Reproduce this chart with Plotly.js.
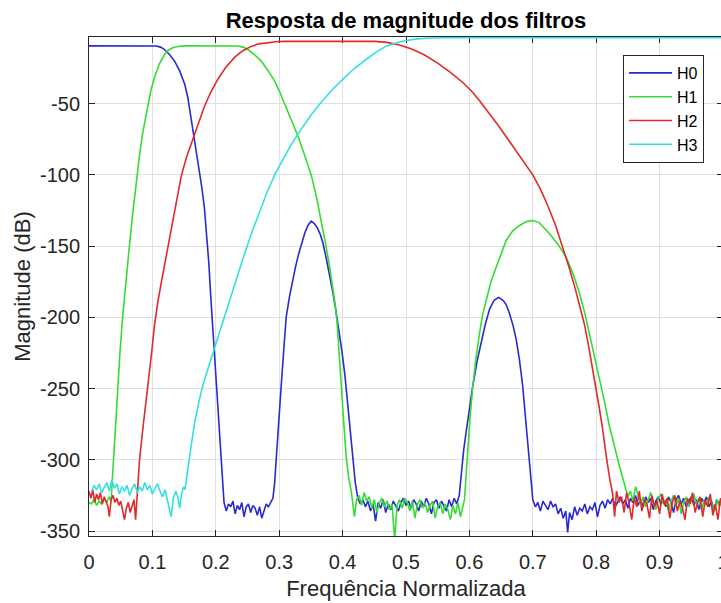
<!DOCTYPE html>
<html>
<head>
<meta charset="utf-8">
<script src="https://cdn.plot.ly/plotly-3.0.1.min.js"></script>
<style>
html,body{margin:0;padding:0;overflow:hidden;background:#fff;}
#chart{width:724px;height:603px;}
</style>
</head>
<body>
<div id="chart"></div>
<script>
// ---------- Data ----------
const seriesNames = ['H0', 'H1', 'H2', 'H3'];
const seriesColors = ['#2a2ad0', '#33dd33', '#e02a2a', '#33e0e0'];

const freqH0 = [0,0.05,0.10,0.106,0.113,0.119,0.127,0.135,0.143,0.151,0.156,0.161,0.166,0.170,0.174,0.178,0.182,0.186,0.189,0.192,0.195,0.198,0.201,0.204,0.207,0.2095,0.2115,0.213,
 0.2165,0.220,0.2235,0.227,0.2305,0.234,0.2375,0.241,0.2445,0.248,0.2515,0.255,0.2585,0.262,0.2655,0.269,0.2725,0.276,0.2795,0.283,0.2865,0.290,
 0.2925,0.295,0.299,0.303,0.307,0.311,0.316,0.321,0.326,0.331,0.336,0.341,0.346,0.3505,0.355,0.360,0.365,0.369,0.374,0.379,0.384,0.389,0.394,0.399,0.4035,0.408,0.412,0.416,0.420,0.424,
 0.428,0.432,0.436,0.440,0.444,0.448,0.452,0.456,0.460,0.464,0.468,0.472,0.476,0.480,0.484,0.488,0.492,0.496,0.500,0.504,0.508,0.512,0.516,0.520,0.524,0.528,0.532,0.536,0.540,0.544,0.548,0.552,0.556,0.560,0.564,0.568,0.572,0.576,0.580,0.584,
 0.587,0.591,0.595,0.600,0.605,0.612,0.619,0.625,0.632,0.639,0.646,0.653,0.658,0.663,0.669,0.674,0.679,0.684,0.688,0.692,0.696,0.700,
 0.704,0.708,0.712,0.716,0.720,0.724,0.728,0.732,0.736,0.740,0.744,0.748,0.752,0.755,0.758,0.762,0.766,0.770,0.774,0.778,0.782,0.786,0.790,0.794,0.798,0.802,0.806,0.810,0.814,0.818,0.822,0.826,0.830,0.834,0.838,0.842,0.846,0.850,0.854,0.858,0.862,0.866,0.870,0.874,0.878,0.882,0.886,0.890,0.894,0.898,0.902,0.906,0.910,0.914,0.918,0.922,0.926,0.930,0.934,0.938,0.942,0.946,0.950,0.954,0.958,0.962,0.966,0.970,0.974,0.978,0.982,0.986,0.990,0.994,0.998];
const dbH0 = [-9.4,-9.4,-9.4,-9.5,-10.3,-12,-15.5,-20.1,-27,-36.4,-46,-59.8,-74.9,-86,-97,-109,-123,-143,-162,-185,-205,-225,-247,-268,-290,-308,-322,-330,
 -336,-331,-333,-329,-338,-332,-335,-330,-340,-333,-331,-337,-332,-334,-339,-333,-341,-336,-331,-333,-330,-327,
 -318,-300,-275,-249,-224,-200,-186,-174,-164,-155,-148,-140,-135,-132.5,-134,-137,-142,-148,-158,-169,-181,-194,-208,-224,-240,-260,-280,-300,-316,-327,
 -331,-328,-333,-329,-336,-331,-343,-330,-334,-328,-337,-331,-335,-329,-333,-336,-330,-327,-332,-329,-334,-328,-331,-336,-329,-333,-327,-331,-338,-330,-328,-334,-329,-332,-336,-328,-333,-327,-331,-325,
 -310,-293,-280,-264,-249,-231,-216,-205,-194,-188,-186,-188,-191,-197,-206,-216,-230,-248,-268,-290,-312,-328,
 -333,-330,-336,-329,-332,-335,-329,-333,-331,-338,-334,-341,-336,-351,-337,-342,-333,-339,-334,-336,-331,-338,-333,-335,-330,-340,-332,-329,-334,-328,-331,-327,-333,-329,-326,-331,-328,-334,-327,-330,-325,-332,-328,-333,-326,-330,-327,-335,-329,-326,-331,-328,-333,-326,-330,-337,-328,-325,-331,-327,-333,-329,-326,-332,-328,-335,-327,-330,-326,-333,-329,-336,-328,-331,-327];

const freqH1 = [0,0.004,0.008,0.012,0.016,0.020,0.024,0.028,0.032,0.035,
 0.036,0.0385,0.0415,0.045,0.0488,0.053,0.058,0.0635,0.069,0.0744,0.080,0.0849,0.0927,0.098,0.1044,0.111,0.119,0.125,0.132,0.140,0.151,0.200,0.235,0.243,0.2505,0.261,0.2716,0.282,0.2926,0.3005,0.308,0.318,0.3294,0.340,0.3505,0.359,0.3665,0.373,0.379,0.384,0.388,0.391,0.394,0.3975,0.4015,0.4057,0.410,0.4136,0.4188,0.422,
 0.426,0.430,0.434,0.438,0.442,0.446,0.450,0.454,0.458,0.462,0.466,0.470,0.474,0.478,0.482,0.486,0.490,0.494,0.498,0.502,0.506,0.510,0.514,0.518,0.522,0.526,0.530,0.534,0.538,0.542,0.546,0.550,0.554,0.558,0.562,0.566,0.570,0.574,0.578,0.582,0.586,0.590,
 0.5923,0.595,0.5975,0.601,0.6054,0.610,0.616,0.621,0.6265,0.634,0.6423,0.650,0.658,0.668,0.679,0.690,0.700,0.710,0.7263,0.740,0.7527,0.764,0.7737,0.782,0.7894,0.797,0.805,0.813,0.821,0.829,0.8367,0.842,0.847,0.850,
 0.854,0.858,0.862,0.866,0.870,0.874,0.878,0.882,0.886,0.890,0.894,0.898,0.902,0.906,0.910,0.914,0.918,0.922,0.926,0.930,0.934,0.938,0.942,0.946,0.950,0.954,0.958,0.962,0.966,0.970,0.974,0.978,0.982,0.986,0.990,0.994,0.998];
const dbH1 = [-330,-331,-328,-332,-329,-331,-327,-330,-326,-329,
 -320,-300,-276,-250,-225,-200,-175,-151,-127,-104,-85,-70,-51,-40,-30,-22,-15.5,-12.5,-10.8,-9.9,-9.4,-9.4,-9.5,-10.3,-12,-15.5,-20.1,-26.5,-34,-41.5,-49.5,-60.5,-72.5,-86,-100,-116,-132,-148,-163,-177,-190,-202,-220,-245,-272,-298,-314,-322,-340,-328,
 -325,-332,-323,-329,-326,-334,-328,-337,-330,-327,-333,-329,-335,-331,-356,-332,-328,-334,-327,-330,-336,-329,-341,-331,-328,-334,-330,-337,-332,-329,-341,-333,-330,-338,-331,-335,-342,-332,-338,-330,-340,-333,
 -327.8,-310,-293,-270,-248.6,-230,-211,-198,-188,-175,-164.7,-155,-146,-139.5,-135.5,-132.8,-132,-133.5,-141.3,-149,-157.7,-170,-183.3,-197,-211.3,-226,-241.6,-259,-276.6,-292,-304.5,-313,-320.8,-326,
 -322,-329,-319,-324,-331,-326,-333,-328,-323,-330,-335,-327,-324,-331,-328,-336,-329,-325,-332,-327,-338,-330,-326,-333,-329,-324,-331,-327,-335,-329,-332,-326,-330,-336,-328,-333,-329];

const freqH2 = [0,0.003,0.006,0.009,0.012,0.015,0.018,0.021,0.024,0.027,0.030,0.032,0.035,0.038,0.041,0.044,0.047,0.050,0.053,0.056,0.059,0.062,0.065,0.068,0.071,0.0735,0.0755,
 0.077,0.0797,0.086,0.0928,0.098,0.1035,0.109,0.1155,0.1235,0.1315,0.1385,0.1454,0.1535,0.163,0.172,0.182,0.192,0.203,0.215,0.2295,0.242,0.2558,0.268,0.282,0.295,0.308,0.350,0.400,0.450,0.470,0.490,0.510,0.530,0.550,0.570,0.590,0.605,0.616,0.630,0.645,0.660,0.675,0.690,0.700,0.712,0.724,0.736,0.747,0.758,0.767,0.775,0.7815,0.788,0.794,0.800,0.805,0.810,0.8135,0.8167,0.822,0.826,
 0.829,0.832,0.836,0.840,0.844,0.848,0.852,0.856,0.860,0.864,0.868,0.872,0.876,0.880,0.884,0.888,0.892,0.896,0.900,0.904,0.908,0.912,0.916,0.920,0.924,0.928,0.932,0.936,0.940,0.944,0.948,0.952,0.956,0.960,0.964,0.968,0.972,0.976,0.980,0.984,0.988,0.992,0.996,1.0];
const dbH2 = [-322,-327,-321,-330,-324,-328,-323,-331,-326,-329,-333,-340,-328,-325,-330,-327,-332,-329,-336,-342,-334,-330,-337,-332,-328,-342,-330,
 -318,-300,-274,-250,-228,-205,-188,-172,-153,-134,-117,-101,-88,-76,-64,-52,-42,-33,-25,-17.5,-13,-9.8,-8,-7,-6.5,-6.25,-6.2,-6.2,-6.3,-7.0,-8.8,-11.8,-16.0,-21.5,-28.0,-35.3,-42,-48,-56,-65,-74.5,-84,-93,-100,-110,-122,-135.5,-150,-166,-180,-193,-205,-220,-235,-250,-264,-278,-290,-300,-315,-324,
 -340,-322,-330,-326,-337,-323,-331,-342,-327,-333,-322,-336,-328,-331,-341,-325,-333,-329,-338,-324,-332,-327,-341,-330,-325,-336,-329,-334,-342,-327,-331,-323,-337,-330,-326,-340,-328,-333,-324,-339,-331,-342,-327,-333];

const freqH3 = [0.004,0.008,0.012,0.016,0.020,0.024,0.028,0.032,0.036,0.040,0.044,0.048,0.052,0.056,0.060,0.064,0.068,0.072,0.076,0.080,0.084,0.088,0.092,0.096,0.100,0.104,0.108,0.112,0.116,0.120,0.124,0.1296,0.133,0.137,0.140,0.143,0.146,0.149,0.1515,
 0.1533,0.157,0.161,0.167,0.174,0.180,0.187,0.194,0.2006,0.207,0.2137,0.222,0.2295,0.242,0.255,0.268,0.281,0.294,0.307,0.318,0.3294,0.340,0.3505,0.3636,0.3715,0.385,0.4003,0.418,0.437,0.453,0.4688,0.485,0.5003,0.518,0.537,0.560,0.700,0.850,1.0];
const dbH3 = [-322,-318,-321,-317,-323,-319,-316,-322,-314,-320,-317,-324,-319,-322,-318,-325,-320,-317,-323,-319,-322,-316,-321,-318,-324,-320,-317,-322,-326,-321,-329,-340,-327,-322,-326,-334,-324,-319,-321,
 -316,-303,-290.6,-273,-258,-247,-237,-227,-218.3,-209,-199.7,-188,-177,-160,-142.5,-126.5,-112,-99,-88,-79.5,-71.4,-64.3,-57.8,-50.4,-46.2,-39.5,-32.9,-25.5,-19,-13.8,-9.6,-7.2,-5.7,-4.5,-3.9,-3.7,-3.7,-3.7,-3.7];

const xTickVals = [0,0.1,0.2,0.3,0.4,0.5,0.6,0.7,0.8,0.9,1];
const xTickText = ['0','0.1','0.2','0.3','0.4','0.5','0.6','0.7','0.8','0.9','1'];
const yTickVals = [-350,-300,-250,-200,-150,-100,-50];
const yTickText = ['-350','-300','-250','-200','-150','-100','-50'];

// ---------- Traces ----------
const xs = [freqH0, freqH1, freqH2, freqH3];
const ys = [dbH0, dbH1, dbH2, dbH3];
const traces = seriesNames.map((n, i) => ({
  type: 'scatter', mode: 'lines', name: n,
  x: xs[i], y: ys[i],
  line: {color: seriesColors[i], width: 1.6}
}));

const FONT = 'Liberation Sans, Arial, Helvetica, sans-serif';
const axisCommon = {
  ticks: 'inside', ticklen: 6, tickwidth: 1, tickcolor: '#262626',
  showline: true, linecolor: '#262626', linewidth: 1, mirror: 'ticks',
  showgrid: true, gridcolor: '#e0e0e0', gridwidth: 1, zeroline: false,
  tickfont: {family: FONT, size: 20, color: '#262626'},
  ticklabeloverflow: 'allow',
  layer: 'below traces'
};

const layout = {
  width: 724, height: 603,
  margin: {l: 89, r: 1, t: 37, b: 67, pad: 0},
  paper_bgcolor: '#ffffff', plot_bgcolor: '#ffffff',
  font: {family: FONT, color: '#262626'},
  title: {
    text: '<b>Resposta de magnitude dos filtros</b>',
    font: {family: FONT, size: 22, color: '#000000'},
    x: 0.5, xref: 'paper', xanchor: 'center',
    y: 1 - 20/603, yref: 'container', yanchor: 'middle'
  },
  xaxis: Object.assign({}, axisCommon, {
    range: [0, 1], tickmode: 'array', tickvals: xTickVals, ticktext: xTickText,
    ticklabelstandoff: 8,
    title: {text: 'Frequência Normalizada', font: {family: FONT, size: 22, color: '#262626'}, standoff: 8}
  }),
  yaxis: Object.assign({}, axisCommon, {
    range: [-353.5, -3.2], tickmode: 'array', tickvals: yTickVals, ticktext: yTickText,
    ticklabelstandoff: 4,
    title: {text: 'Magnitude (dB)', font: {family: FONT, size: 22, color: '#262626'}, standoff: 3}
  }),
  showlegend: true,
  legend: {
    x: (623 - 89) / 634, y: (536 - 55) / 499, xanchor: 'left', yanchor: 'top',
    bgcolor: '#ffffff', bordercolor: '#262626', borderwidth: 1,
    font: {family: FONT, size: 16, color: '#000000'},
    itemwidth: 43, tracegroupgap: 0
  }
};

Plotly.newPlot('chart', traces, layout, {displayModeBar: false, staticPlot: true});
</script>
</body>
</html>
